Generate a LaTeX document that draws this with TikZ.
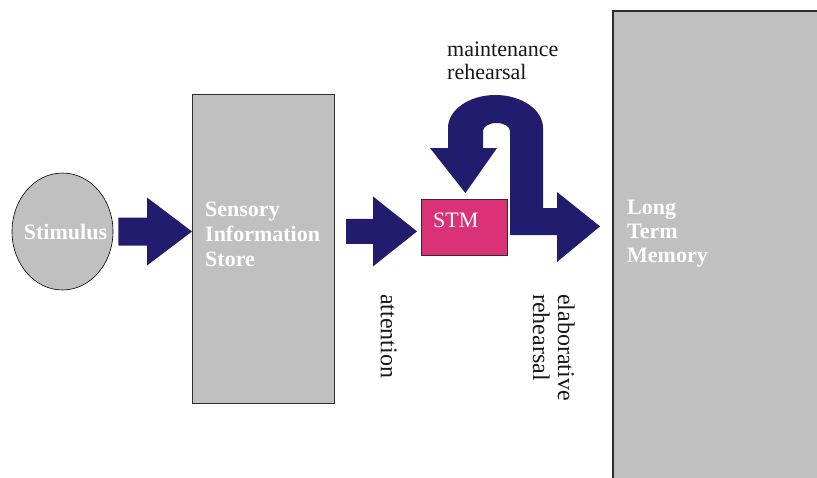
\documentclass[tikz,border=0pt]{standalone}
\usepackage{fontspec}
\setmainfont{Liberation Serif}
\usetikzlibrary{shapes.geometric,calc}

\definecolor{boxgray}{RGB}{192,192,192}
\definecolor{arrownavy}{RGB}{34,28,110}
\definecolor{stmpink}{RGB}{219,50,119}
\definecolor{edgedark}{RGB}{45,45,45}
\definecolor{labelink}{RGB}{25,25,25}

% Horizontal block arrow: #1 tail, #2 tip, #3 shaft half height,
% #4 head half height, #5 head length
\newcommand\blockarrow[5]{%
  \fill[flow] let \p1=(#1), \p2=(#2) in
    (\x1,\y2+#3) -- (\x2-#5,\y2+#3) -- (\x2-#5,\y2+#4) -- (\x2,\y2)
    -- (\x2-#5,\y2-#4) -- (\x2-#5,\y2-#3) -- (\x1,\y2-#3) -- cycle;
}

\begin{document}
\begin{tikzpicture}[x=1pt,y=-1pt,
  store/.style={draw=edgedark, line width=1.2pt, fill=boxgray, inner sep=0pt, anchor=north west},
  boxtext/.style={text=white, font=\fontsize{22}{25}\selectfont\bfseries, align=left, inner sep=0pt, anchor=north west},
  note/.style={text=labelink, align=left, inner sep=0pt, anchor=north west},
  flow/.style={fill=arrownavy}
]
\useasboundingbox (0,0) rectangle (817,477);
\clip (0,0) rectangle (817,477);
\fill[white] (0,0) rectangle (817,477);

% Stimulus
\node (stim) [ellipse, draw=black, line width=0.6pt, fill=boxgray,
  minimum width=101pt, minimum height=117pt, inner sep=0pt] at (62.5,231.5) {};
\node (stimtext) [text=white, inner sep=0pt,
  font=\fontsize{22}{25}\selectfont\bfseries] at (65.5,232) {Stimulus};

% Sensory information store
\node (sis) [store, minimum width=142pt, minimum height=309pt] at (192,94) {};
\node (sistext) [boxtext] at (205,202) {Sensory\\Information\\Store};

% Short term memory
\node (stm) [draw=edgedark, line width=0.8pt, fill=stmpink, minimum width=86pt,
  minimum height=56pt, inner sep=0pt, anchor=north west] at (421,199) {};
\node (stmtext) [text=white, font=\fontsize{22}{25}\selectfont, inner sep=0pt,
  anchor=north west] at (433,213) {STM};

% Long term memory (runs off the right and bottom edges)
\node (ltm) [fill=boxgray, inner sep=0pt, minimum width=230pt, minimum height=490pt,
  anchor=north west] at (613,11) {};
\draw[edgedark, line width=1.2pt] (ltm.south west) -- (ltm.north west) -- (ltm.north east);
\node (ltmtext) [boxtext, font=\fontsize{22}{24}\selectfont\bfseries] at (627,200) {Long\\Term\\Memory};

% Stimulus -> sensory store
\blockarrow{$(stim.east)+(5,0)$}{sis.west |- stim.east}{14pt}{34pt}{45pt}

% Sensory store -> STM (attention)
\blockarrow{$(sis.east |- stm.west)+(11,4)$}{$(stm.west)+(-4,4)$}{12.5pt}{35pt}{44pt}

% Rehearsal loop back into STM and branch into LTM
\coordinate (looptip) at ($(stm.north)+(1,-6)$);
\coordinate (ltmtip) at ($(ltm.west |- stm.center)+(-13,-1)$);
\fill[flow] (looptip) -- (430,148) -- (448,148) -- (448,128)
  arc[start angle=180, end angle=0, x radius=47.5pt, y radius=33pt]
  -- (543,208) -- (557,208) -- (557,192) -- (ltmtip) -- (557,262) -- (557,235)
  -- (510,235) -- (510,131)
  arc[start angle=0, end angle=180, x radius=13.5pt, y radius=8pt]
  -- (483,148) -- (497,148) -- cycle;

% Labels
\node (maint) [note, font=\fontsize{22}{23}\selectfont] at (447,42) {maintenance\\rehearsal};
\node (attn) [note, rotate=-90, font=\fontsize{24}{25}\selectfont] at (397,294) {attention};
\node (elab) [note, rotate=-90, font=\fontsize{24}{25}\selectfont] at (575,294) {elaborative\\rehearsal};
\end{tikzpicture}
\end{document}
